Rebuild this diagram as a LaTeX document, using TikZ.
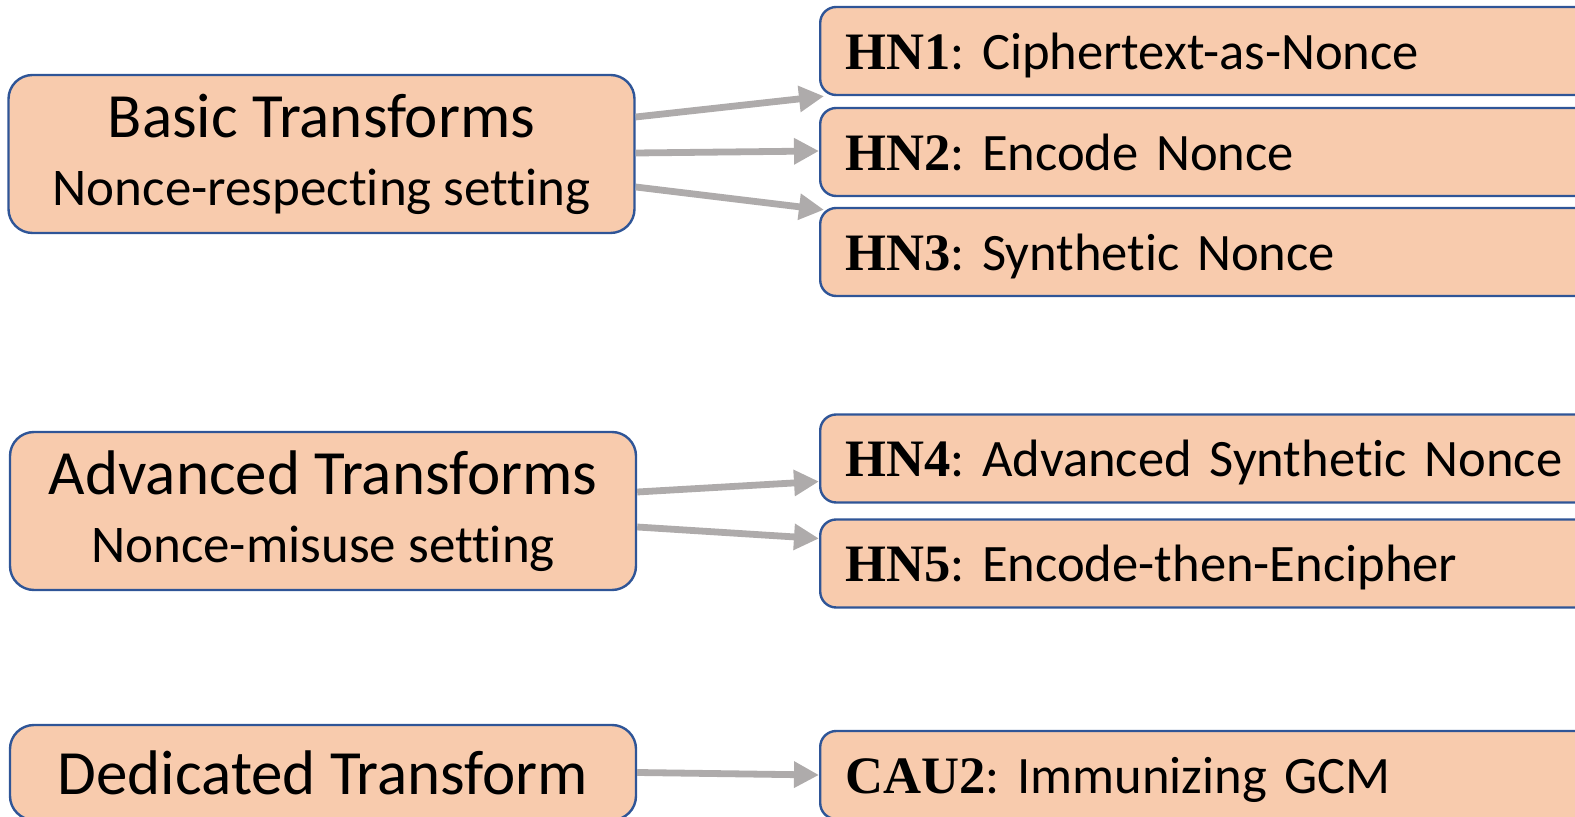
\documentclass[tikz,border=0pt]{standalone}
\usepackage{fontspec}
\setmainfont{Carlito}[Ligatures=NoCommon]
\newfontfamily\serifbf{Liberation Serif}[BoldFont={Liberation Serif Bold}]
\usetikzlibrary{arrows.meta}
\frenchspacing

\definecolor{boxfill}{HTML}{F8CBAD}
\definecolor{boxline}{HTML}{2F5597}
\definecolor{arrowgray}{HTML}{AEABAB}

\newcommand{\hn}[1]{{\serifbf\bfseries #1}}

\tikzset{
  group/.style={rectangle, rounded corners=12pt, draw=boxline, line width=1.2pt,
    fill=boxfill, align=center, minimum width=313pt, inner sep=0pt,
    font=\fontsize{26.5}{34}\selectfont},
  scheme/.style={rectangle, rounded corners=8pt, draw=boxline, line width=1.2pt,
    fill=boxfill, anchor=west, minimum height=44pt, text width=430pt,
    text depth=0pt, inner xsep=12.5pt, inner ysep=0pt, align=left,
    font=\fontsize{26.3}{30}\selectfont},
  link/.style={draw=arrowgray, line width=3.4pt, -{Triangle[length=12.5pt,width=12.5pt]}},
}

\begin{document}
\begin{tikzpicture}[x=0.5pt, y=-0.5pt]
  \useasboundingbox (0,0) rectangle (1575,817);
  \clip (0,0) rectangle (1575,817);

  % left column
  \node[group, minimum height=79pt] (basic) at (321.5,154)
    {{\fontsize{31.5}{34}\selectfont Basic Transforms}\\
     Nonce-respecting setting};
  \node[group, minimum height=79pt] (advanced) at (323,511)
    {{\fontsize{31.5}{34}\selectfont Advanced Transforms}\\
     Nonce-misuse setting};
  \node[group, font=\fontsize{31.5}{34}\selectfont, minimum height=47.5pt] (dedicated) at (323,772.5)
    {Dedicated Transform};

  % right column
  \node[scheme] (hn1) at (819,51) {\hn{HN1}: Ciphertext-as-Nonce};
  \node[scheme] (hn2) at (819,152) {\hn{HN2}: Encode Nonce};
  \node[scheme] (hn3) at (819,252) {\hn{HN3}: Synthetic Nonce};
  \node[scheme] (hn4) at (819,458.5) {\hn{HN4}: Advanced Synthetic Nonce};
  \node[scheme] (hn5) at (819,563.5) {\hn{HN5}: Encode-then-Encipher};
  \node[scheme] (cau2) at (819,775) {\hn{CAU2}: Immunizing GCM};

  % arrows
  \draw[link] ([yshift=18.5pt]basic.east) -- ([xshift=2.5pt]hn1.south west);
  \draw[link] ([yshift=0.5pt]basic.east) -- ([yshift=0.5pt]hn2.west);
  \draw[link] ([yshift=-16.5pt]basic.east) -- ([xshift=2.5pt,yshift=-1.5pt]hn3.north west);
  \draw[link] ([yshift=9.5pt]advanced.east) -- ([yshift=-11.5pt]hn4.west);
  \draw[link] ([yshift=-8pt]advanced.east) -- ([yshift=12.5pt]hn5.west);
  \draw[link] (dedicated.east) -- (cau2.west);
\end{tikzpicture}
\end{document}
